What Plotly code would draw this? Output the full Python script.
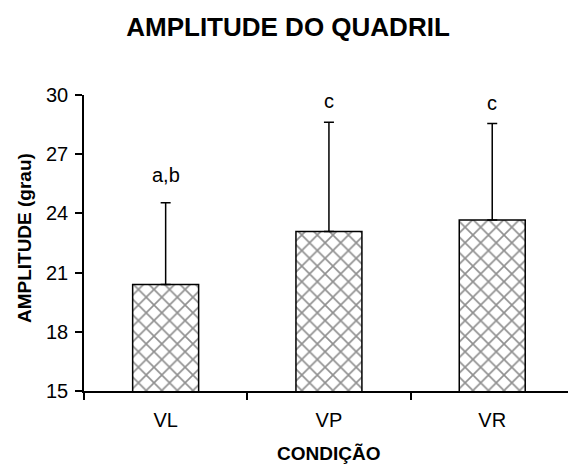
import plotly.graph_objects as go

categories = ["VL", "VP", "VR"]
means = [20.4, 23.08, 23.66]
errors_up = [4.14, 5.54, 4.89]
sig_labels = ["a,b", "c", "c"]
sig_label_y = [25.94, 29.70, 29.58]
y_ticks = [15, 18, 21, 24, 27, 30]

FONT = "Liberation Sans, Arial, sans-serif"

fig = go.Figure()
fig.add_trace(go.Bar(
    x=categories,
    y=means,
    width=0.404,
    marker=dict(
        color="white",
        line=dict(color="black", width=1.5),
        pattern=dict(shape="x", size=11, solidity=0.28, fgcolor="#222222", bgcolor="white"),
    ),
    error_y=dict(type="data", array=errors_up, arrayminus=[0] * len(means),
                 symmetric=False, color="black", thickness=1.5, width=5),
    showlegend=False,
))

for c, lab, ly in zip(categories, sig_labels, sig_label_y):
    fig.add_annotation(x=c, y=ly, text=lab, showarrow=False, xref="x", yref="y",
                       yanchor="middle", font=dict(family=FONT, size=20, color="black"))

# axis titles
fig.add_annotation(text="<b>CONDIÇÃO</b>", xref="paper", yref="paper",
                   x=0.506, y=-(454 - 391.5) / 296.5, xanchor="center", yanchor="middle",
                   showarrow=False, font=dict(family=FONT, size=19, color="black"))
fig.add_annotation(text="<b>AMPLITUDE (grau)</b>", xref="paper", yref="paper",
                   x=-(84 - 24) / 484, y=(391.5 - 238.3) / 296.5, xanchor="center", yanchor="middle",
                   textangle=-90, showarrow=False, font=dict(family=FONT, size=19, color="black"))

fig.update_layout(
    width=568, height=468,
    margin=dict(l=84, r=0, t=95, b=76.5),
    paper_bgcolor="white", plot_bgcolor="white",
    font=dict(family=FONT, size=20, color="black"),
    title=dict(text="<b>AMPLITUDE DO QUADRIL</b>", xref="container", yref="container",
               x=288 / 568, y=1 - 27 / 468, xanchor="center", yanchor="middle",
               font=dict(family=FONT, size=26, color="black")),
    bargap=0.596,
)
fig.update_xaxes(
    range=[-0.5, 2.464], showline=True, linecolor="black", linewidth=1.5,
    ticks="outside", tickson="boundaries", ticklen=7, tickwidth=1.5, tickcolor="black",
    showgrid=False, zeroline=False, ticklabelstandoff=10,
    tickfont=dict(family=FONT, size=20, color="black"),
)
fig.update_yaxes(
    range=[15, 30], tickvals=y_ticks, showline=True, linecolor="black", linewidth=1.5,
    ticks="outside", ticklen=7, tickwidth=1.5, tickcolor="black",
    showgrid=False, zeroline=False, ticklabelstandoff=3,
    tickfont=dict(family=FONT, size=20, color="black"),
)

fig.write_html("out.html")
